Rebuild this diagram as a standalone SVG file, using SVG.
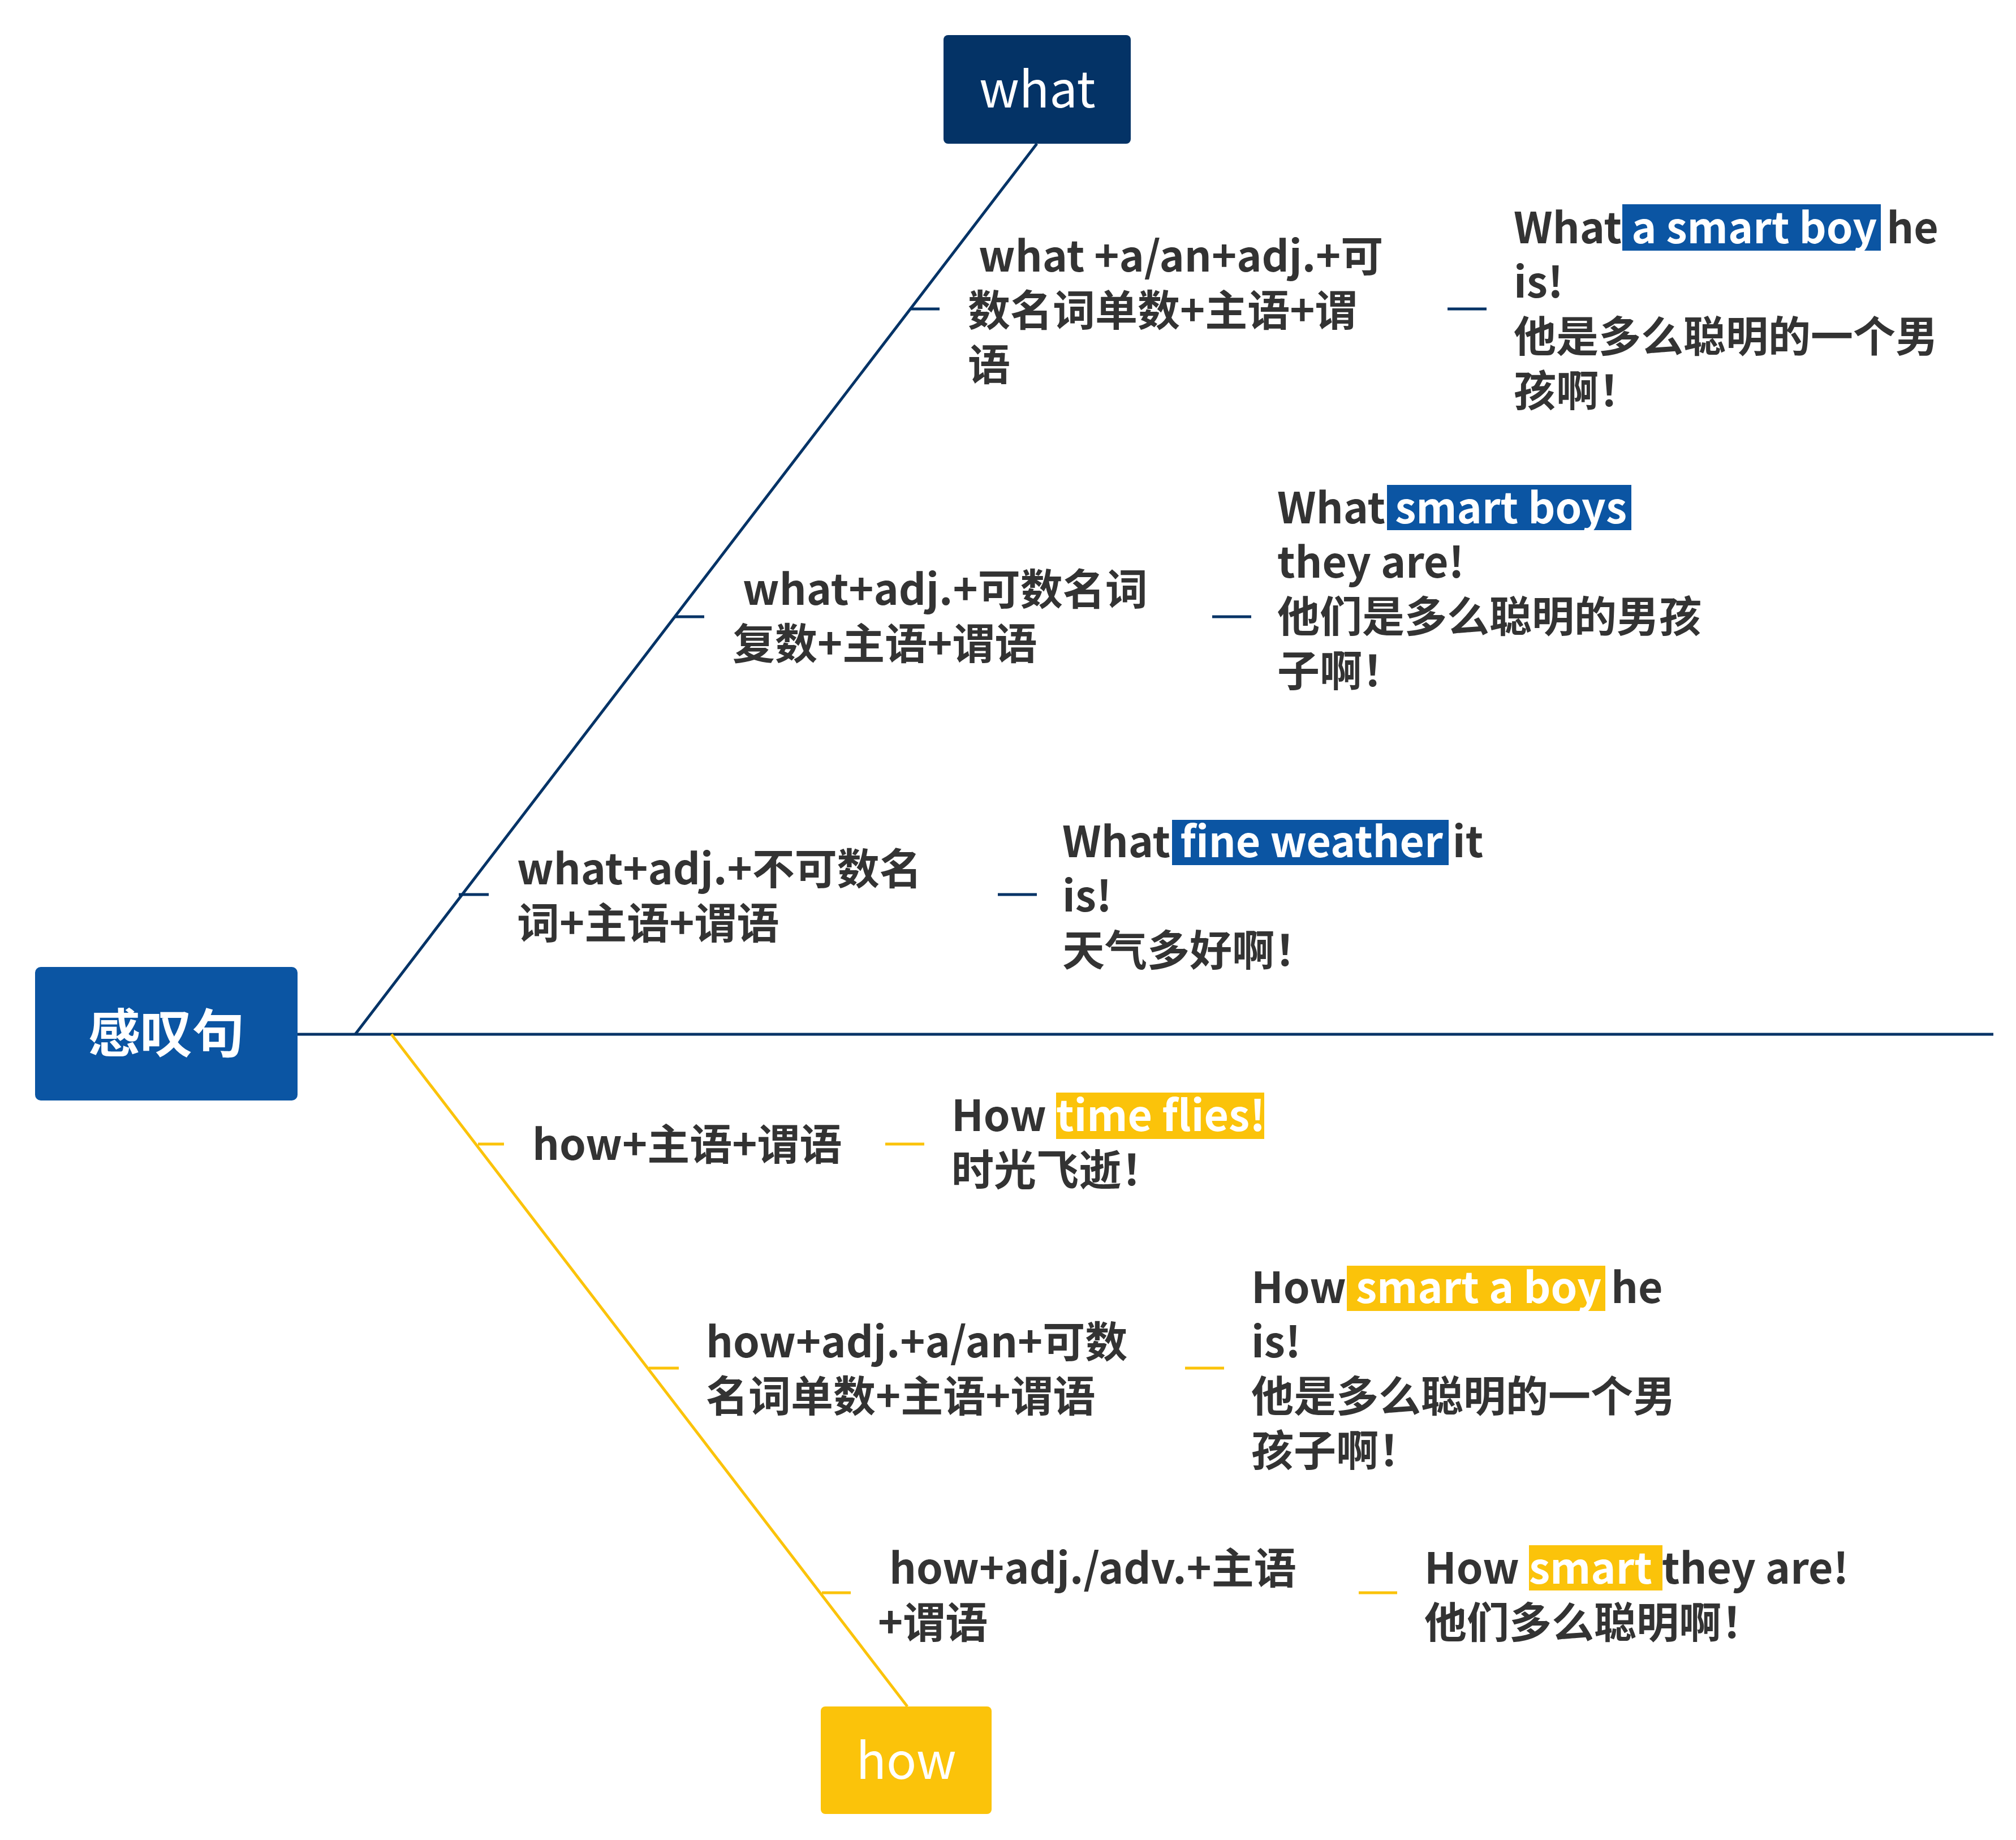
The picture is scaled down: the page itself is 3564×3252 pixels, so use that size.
<svg xmlns="http://www.w3.org/2000/svg" width="3564" height="3252" viewBox="0 0 3564 3252">
<style>
.t{font-family:"Noto Sans CJK SC","Noto Sans",sans-serif;font-size:75px;font-weight:600;fill:#333333}
.w{fill:#ffffff}
.hb{fill:#0B55A3}
.hy{fill:#FBC30A}
.nb{stroke:#043366;stroke-width:5;fill:none}
.ny{stroke:#FBC30A;stroke-width:5;fill:none}
.bx{font-family:"Noto Sans CJK SC","Noto Sans",sans-serif;fill:#ffffff}
</style>
<rect width="3564" height="3252" fill="#ffffff"/>
<g id="connectors">
<line class="nb" x1="526" y1="1828" x2="3524" y2="1828"/>
<line class="nb" x1="628" y1="1828" x2="1833" y2="254"/>
<line class="ny" x1="692" y1="1828" x2="1604" y2="3016"/>
<line class="nb" x1="1611" y1="546" x2="1661" y2="546"/>
<line class="nb" x1="2559" y1="546" x2="2628" y2="546"/>
<line class="nb" x1="1193" y1="1090" x2="1245" y2="1090"/>
<line class="nb" x1="2143" y1="1090" x2="2212" y2="1090"/>
<line class="nb" x1="811" y1="1581" x2="864" y2="1581"/>
<line class="nb" x1="1764" y1="1581" x2="1833" y2="1581"/>
<line class="ny" x1="845" y1="2022" x2="891" y2="2022"/>
<line class="ny" x1="1565" y1="2022" x2="1634" y2="2022"/>
<line class="ny" x1="1147" y1="2418" x2="1200" y2="2418"/>
<line class="ny" x1="2095" y1="2418" x2="2164" y2="2418"/>
<line class="ny" x1="1453" y1="2815" x2="1504" y2="2815"/>
<line class="ny" x1="2402" y1="2815" x2="2470" y2="2815"/>
</g>
<g id="root"><rect x="62" y="1709" width="464" height="236" rx="10" fill="#0B55A3"/><text class="bx" x="294" y="1860" font-size="92" font-weight="700" text-anchor="middle">感叹句</text></g>
<g id="what"><rect x="1668" y="62" width="331" height="192" rx="8" fill="#043366"/><text class="bx" x="1834" y="190" font-size="88" text-anchor="middle">what</text></g>
<g id="how"><rect x="1451" y="3016" width="302" height="190" rx="8" fill="#FBC30A"/><text class="bx" x="1602" y="3144" font-size="88" text-anchor="middle">how</text></g>
<g id="w1"><text class="t"><tspan x="1730" y="480">what +a/an+adj.+可</tspan><tspan x="1711" y="576">数名词单数+主语+谓</tspan><tspan x="1711" y="672">语</tspan></text></g>
<g id="w1e"><rect class="hb" x="2868" y="361" width="457" height="82"/><text class="t"><tspan x="2676" y="430">What <tspan class="w">a smart boy</tspan> he</tspan><tspan x="2676" y="526">is!</tspan><tspan x="2676" y="622">他是多么聪明的一个男</tspan><tspan x="2676" y="718">孩啊！</tspan></text></g>
<g id="w2"><text class="t"><tspan x="1313" y="1069">what+adj.+可数名词</tspan><tspan x="1295" y="1165">复数+主语+谓语</tspan></text></g>
<g id="w2e"><rect class="hb" x="2452" y="857" width="432" height="80"/><text class="t"><tspan x="2258" y="925">What <tspan class="w">smart boys</tspan></tspan><tspan x="2258" y="1021">they are!</tspan><tspan x="2258" y="1117">他们是多么聪明的男孩</tspan><tspan x="2258" y="1213">子啊！</tspan></text></g>
<g id="w3"><text class="t"><tspan x="914" y="1563">what+adj.+不可数名</tspan><tspan x="914" y="1659">词+主语+谓语</tspan></text></g>
<g id="w3e"><rect class="hb" x="2072" y="1449" width="489" height="80"/><text class="t"><tspan x="1878" y="1515">What <tspan class="w">fine weather</tspan> it</tspan><tspan x="1878" y="1611">is!</tspan><tspan x="1878" y="1707">天气多好啊！</tspan></text></g>
<g id="h1"><text class="t" x="941" y="2050">how+主语+谓语</text></g>
<g id="h1e"><rect class="hy" x="1867" y="1931" width="368" height="82"/><text class="t"><tspan x="1682" y="1999">How <tspan class="w">time flies!</tspan></tspan><tspan x="1682" y="2095">时光飞逝！</tspan></text></g>
<g id="h2"><text class="t"><tspan x="1248" y="2399">how+adj.+a/an+可数</tspan><tspan x="1248" y="2495">名词单数+主语+谓语</tspan></text></g>
<g id="h2e"><rect class="hy" x="2381" y="2237" width="457" height="80"/><text class="t"><tspan x="2212" y="2303">How <tspan class="w">smart a boy</tspan> he</tspan><tspan x="2212" y="2399">is!</tspan><tspan x="2212" y="2495">他是多么聪明的一个男</tspan><tspan x="2212" y="2591">孩子啊！</tspan></text></g>
<g id="h3"><text class="t"><tspan x="1572" y="2799">how+adj./adv.+主语</tspan><tspan x="1552" y="2895">+谓语</tspan></text></g>
<g id="h3e"><rect class="hy" x="2703" y="2731" width="236" height="80"/><text class="t"><tspan x="2518" y="2799">How <tspan class="w">smart</tspan> they are!</tspan><tspan x="2518" y="2895">他们多么聪明啊！</tspan></text></g>
</svg>
